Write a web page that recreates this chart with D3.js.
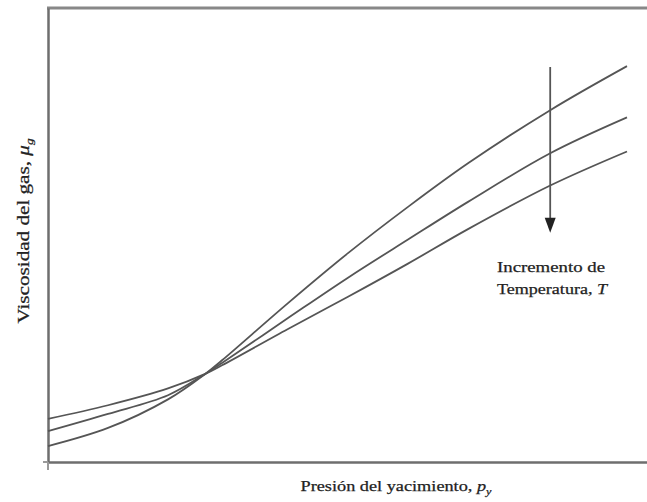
<!DOCTYPE html>
<html>
<head>
<meta charset="utf-8">
<script src="https://cdn.jsdelivr.net/npm/d3@7"></script>
<style>
  body { margin: 0; background: #fff; }
</style>
</head>
<body>
<svg width="647" height="502"></svg>
<script>
const svg = d3.select("svg");

// pressure (relative units) and viscosity curves for three temperatures
const pressure = [0, 10, 20, 26.2, 29, 40, 50, 60, 70, 83.7, 96.5];
const muLowT  = [3.5, 7.5, 13.8, 19.4, 22.4, 35.0, 46.0, 56.2, 65.8, 77.5, 87.2];
const muMidT  = [6.8, 10.6, 14.7, 19.4, 21.8, 31.7, 40.6, 49.0, 57.3, 68.0, 75.9];
const muHighT = [9.5, 12.5, 16.2, 19.4, 21.3, 29.3, 36.4, 43.7, 51.3, 60.9, 68.4];
const curves = [muLowT, muMidT, muHighT];

// arrow for increasing temperature
const arrowP = 83.7;
const arrowFrom = 87.0;
const arrowTo = 50.5;

const serif = "Liberation Serif";
const textColor = "#222";

const x = d3.scaleLinear().domain([0, 100]).range([48, 648]);
const y = d3.scaleLinear().domain([0, 100]).range([462, 8]);

const axisColor = "#6e6e6e";

// top frame line
svg.append("line")
    .attr("x1", x(0) - 1).attr("x2", 647)
    .attr("y1", y(100)).attr("y2", y(100))
    .attr("stroke", "#888").attr("stroke-width", 3);

// axes without ticks
const xAxis = svg.append("g")
    .attr("transform", "translate(0," + y(0) + ")")
    .call(d3.axisBottom(x).tickValues([]).tickSizeOuter(0));
xAxis.select(".domain").attr("stroke", axisColor).attr("stroke-width", 2.5);

const yAxis = svg.append("g")
    .attr("transform", "translate(" + x(0) + ",0)")
    .call(d3.axisLeft(y).tickValues([]).tickSizeOuter(0));
yAxis.select(".domain").attr("stroke", axisColor).attr("stroke-width", 2.5);

// small extensions at the origin
svg.append("line")
    .attr("x1", x(0)).attr("x2", x(0))
    .attr("y1", y(0)).attr("y2", y(0) + 8)
    .attr("stroke", "#999").attr("stroke-width", 2);
svg.append("line")
    .attr("x1", x(0) - 5).attr("x2", x(0))
    .attr("y1", y(0)).attr("y2", y(0))
    .attr("stroke", "#999").attr("stroke-width", 2);

const line = d3.line()
    .x((d, i) => x(pressure[i]))
    .y(d => y(d))
    .curve(d3.curveCatmullRom.alpha(0.5));

svg.append("g")
    .selectAll("path")
    .data(curves)
    .enter().append("path")
        .attr("d", line)
        .attr("fill", "none")
        .attr("stroke", "#555")
        .attr("stroke-width", 1.8);

// arrow
const ax = x(arrowP);
svg.append("line")
    .attr("x1", ax).attr("x2", ax)
    .attr("y1", y(arrowFrom)).attr("y2", y(arrowTo) - 12)
    .attr("stroke", "#555").attr("stroke-width", 1.8);
svg.append("path")
    .attr("d", "M" + (ax - 5.5) + "," + (y(arrowTo) - 15) +
               "L" + (ax + 5.5) + "," + (y(arrowTo) - 15) +
               "L" + ax + "," + y(arrowTo) + "Z")
    .attr("fill", "#222");

function label(t, size, len) {
    return t.attr("font-family", serif)
        .attr("font-size", size)
        .attr("fill", textColor)
        .attr("stroke", textColor)
        .attr("stroke-width", 0.25)
        .attr("text-anchor", "middle")
        .attr("textLength", len)
        .attr("lengthAdjust", "spacingAndGlyphs");
}

// annotation
label(svg.append("text").attr("x", 551).attr("y", 272), 15, 108)
    .text("Incremento de");
const l2 = label(svg.append("text").attr("x", 552).attr("y", 294), 15, 110);
l2.append("tspan").text("Temperatura, ");
l2.append("tspan").attr("font-style", "italic").text("T");

// x label
const xl = label(svg.append("text").attr("x", 396).attr("y", 491), 15, 191);
xl.append("tspan").text("Presión del yacimiento, ");
xl.append("tspan").attr("font-style", "italic").text("p");
xl.append("tspan").attr("font-style", "italic").attr("font-size", 10).attr("dy", 4).text("y");

// y label
const yl = label(svg.append("text").attr("transform", "translate(29,231) rotate(-90)"), 16, 185);
yl.append("tspan").text("Viscosidad del gas, ");
yl.append("tspan").attr("font-style", "italic").text("μ");
yl.append("tspan").attr("font-style", "italic").attr("font-size", 10).attr("dy", 4).text("g");
</script>
</body>
</html>
